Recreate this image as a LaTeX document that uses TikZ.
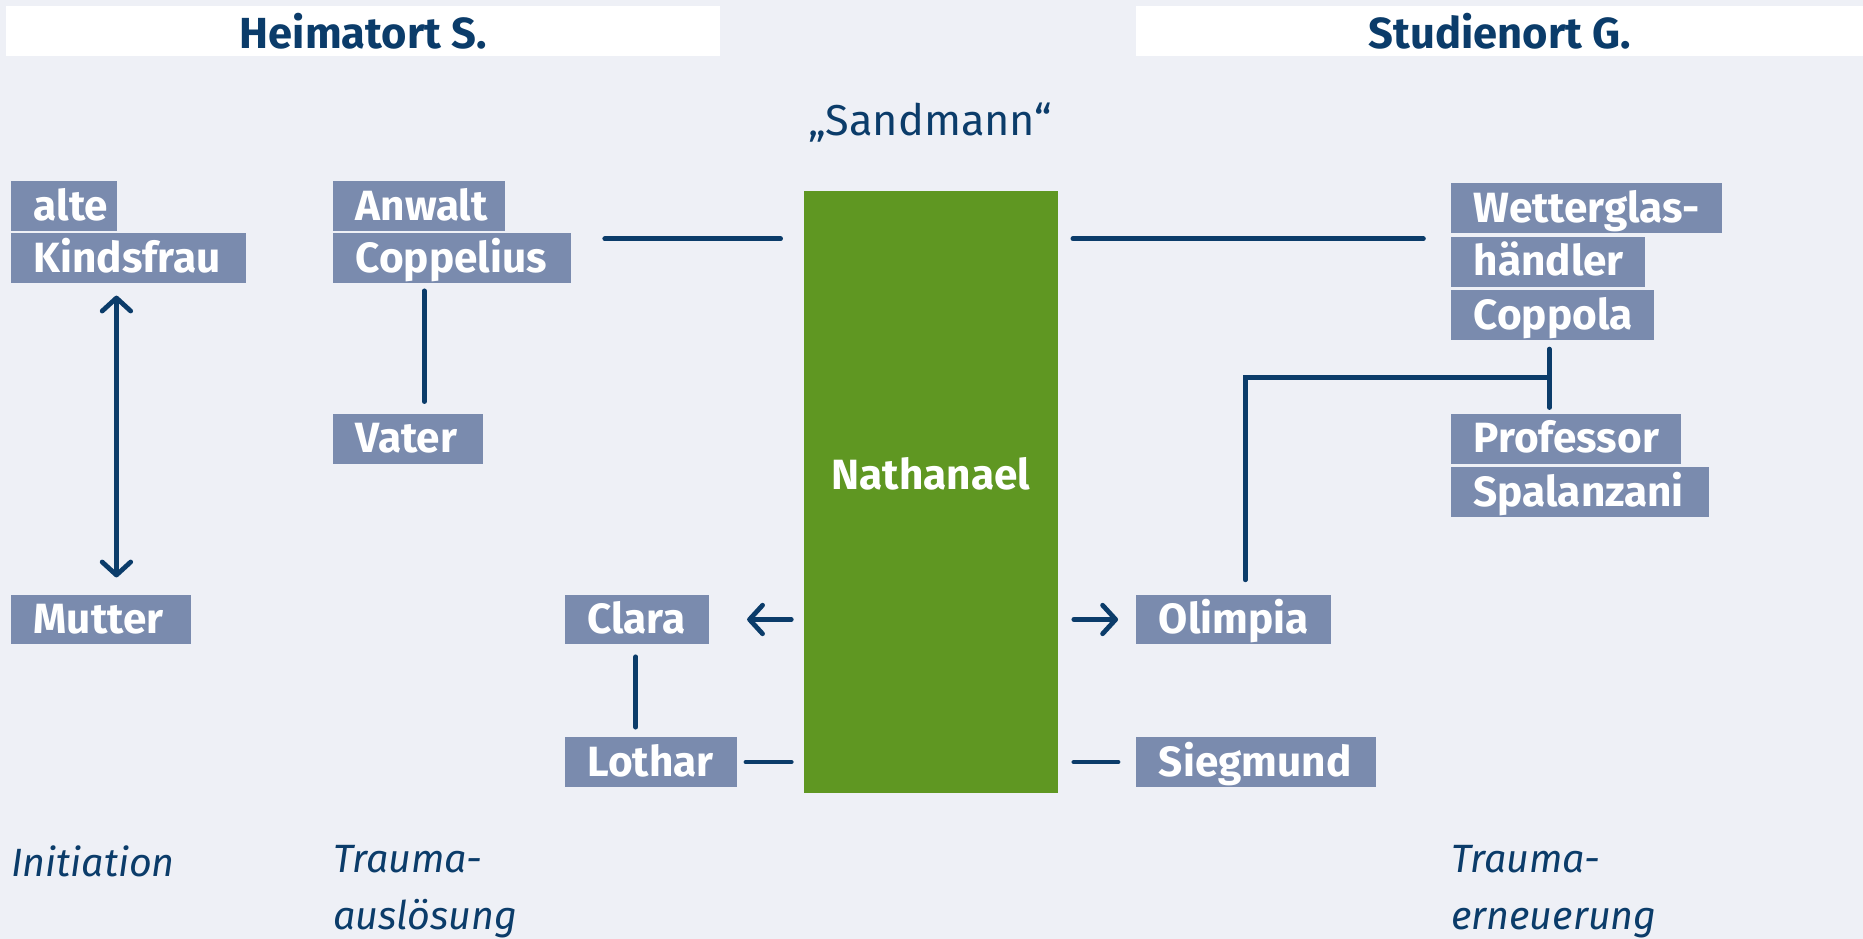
\documentclass[tikz,border=0pt]{standalone}
\usepackage{fontspec}
\setmainfont{Fira Sans}
\usetikzlibrary{arrows.meta,calc}
\definecolor{bg}{HTML}{EEF0F6}
\definecolor{navy}{HTML}{0B3C6A}
\definecolor{boxc}{HTML}{7A8BAE}
\definecolor{grn}{HTML}{5F9722}
\newcommand\boxfont{\bfseries\fontsize{17.8}{20}\selectfont}
\newcommand\headfont{\bfseries\fontsize{18.3}{21}\selectfont}
\newcommand\notefont{\itshape\fontsize{16.6}{24}\selectfont}
\tikzset{
  box/.style={fill=boxc, text=white, font=\boxfont, inner xsep=9.5pt, inner ysep=0pt,
    minimum height=21pt, text height=14.6pt, text depth=2.8pt, anchor=north west, align=left},
  head/.style={fill=white, text=navy, font=\headfont, inner sep=0pt, minimum height=21pt, anchor=north west},
  conn/.style={draw=navy, line width=2pt, line cap=round},
  arr/.style={conn, -{Straight Barb[length=5.5pt,width=12pt,line width=2pt,round]}},
  darr/.style={conn, {Straight Barb[length=5.5pt,width=12pt,line width=2pt,round]}-{Straight Barb[length=5.5pt,width=12pt,line width=2pt,round]}},
  note/.style={text=navy, font=\notefont, inner sep=0pt, anchor=north west, align=left}
}
\begin{document}
\begin{tikzpicture}[x=0.5pt,y=-0.5pt]
\fill[bg] (0,0) rectangle (1568,790);
\useasboundingbox (0,0) rectangle (1568,790);

% headers
\node[head, minimum width=300.5pt] (hl) at (5,5) {Heimatort S.};
\node[head, minimum width=306pt] (hr) at (956,5) {Studienort G.};

% Sandmann
\node[text=navy, font=\fontsize{18.2}{21}\selectfont] (sand) at (783,103) {„Sandmann“};

% Nathanael
\node[fill=grn, minimum width=107pt, minimum height=253.5pt, anchor=north west, inner sep=0pt,
  label={[text=white, font=\boxfont, yshift=7.75pt]center:Nathanael}] (nath) at (676,160) {};

% left column
\node[box, text width=25.5pt] (alte) at (9,152) {alte};
\node[box, text width=80pt] (kinds) at (9,196) {Kindsfrau};
\node[box, text width=56.5pt] (mutter) at (9,500) {Mutter};

% second column
\node[box, text width=53.5pt] (anwalt) at (280,152) {Anwalt};
\node[box, text width=81pt] (copp) at (280,196) {Coppelius};
\node[box, text width=44pt] (vater) at (280,348) {Vater};

% Clara, Lothar
\node[box, text width=41.5pt] (clara) at (475,500) {Clara};
\node[box, text width=53.5pt] (lothar) at (475,620) {Lothar};

% Olimpia, Siegmund
\node[box, text width=63pt] (olimpia) at (956,500) {Olimpia};
\node[box, text width=82pt] (siegmund) at (956,620) {Siegmund};

% right column
\node[box, text width=95pt] (wetter) at (1221,154) {Wetterglas-};
\node[box, text width=62.5pt] (haendler) at (1221,199) {händler};
\node[box, text width=66.5pt] (coppola) at (1221,244) {Coppola};
\node[box, text width=77.5pt] (prof) at (1221,348) {Professor};
\node[box, text width=89.5pt] (spal) at (1221,393) {Spalanzani};

% notes
\node[note] (n1) at (9,711) {Initiation};
\node[note] (n2) at (280,711) {Trauma-\\auslösung};
\node[note] (n3) at (1221,711) {Trauma-\\erneuerung};

% connectors
\draw[darr] ([xshift=44.5pt,yshift=-5pt]kinds.south west) -- ([xshift=44.5pt,yshift=7pt]mutter.north west);
\draw[conn] ([xshift=38.5pt,yshift=-3pt]copp.south west) -- ([xshift=38.5pt,yshift=5pt]vater.north west);

\coordinate (cl) at (509,201);
\coordinate (cr) at (657,201);
\draw[conn] (cl) -- (cr);
\coordinate (dl) at (903,201);
\coordinate (dr) at (1198,201);
\draw[conn] (dl) -- (dr);

% Coppola - Professor - Olimpia
\coordinate (pv) at ($(coppola.south west)+(41.5pt,0)$);
\draw[conn] ([yshift=-3.5pt]pv) -- ([xshift=41.5pt,yshift=2.5pt]prof.north west);
\coordinate (tj) at (1304,318);
\coordinate (oc) at (1048,318);
\draw[conn] (tj) -- (oc) -- ([yshift=6pt]olimpia.north west -| oc);

% Clara, Lothar
\draw[arr] ([xshift=-5pt]nath.west |- clara.east) -- ([xshift=16pt]clara.east);
\draw[conn] ([xshift=30pt,yshift=-5pt]clara.south west) -- ([xshift=30pt,yshift=4pt]lothar.north west);
\draw[conn] ([xshift=-5pt]nath.west |- lothar.east) -- ([xshift=3.5pt]lothar.east);

% Olimpia, Siegmund
\draw[arr] ([xshift=6.5pt]nath.east |- olimpia.west) -- ([xshift=-7.5pt]olimpia.west);
\draw[conn] ([xshift=6.5pt]nath.east |- siegmund.west) -- ([xshift=-7.5pt]siegmund.west);
\end{tikzpicture}
\end{document}
